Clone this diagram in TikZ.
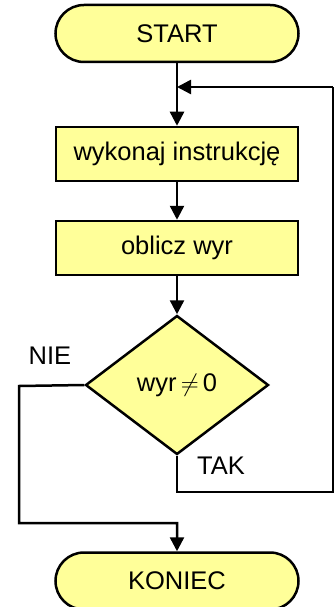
\documentclass[tikz,border=0pt]{standalone}
\usepackage{fontspec}
\setmainfont{Liberation Sans}
\usetikzlibrary{arrows.meta,shapes.geometric,shapes.misc}
\definecolor{fillyel}{RGB}{255,255,153}
\begin{document}
\begin{tikzpicture}[x=1pt,y=-1pt,
  txt/.style={font=\fontsize{25.5}{30}\selectfont},
  term/.style={draw=black,line width=2.5pt,fill=fillyel,rounded rectangle,minimum width=243pt,minimum height=57pt,inner sep=0pt,txt},
  proc/.style={draw=black,line width=2.5pt,fill=fillyel,rectangle,minimum width=242pt,minimum height=54pt,inner sep=0pt,txt},
  deci/.style={draw=black,line width=2.5pt,fill=fillyel,diamond,aspect=1.32,minimum width=183pt,minimum height=139pt,inner sep=0pt,txt},
  conn/.style={line width=2.5pt,-{Triangle[length=14pt,width=14pt]}},
  line/.style={line width=2.5pt}]
\useasboundingbox (0,0) rectangle (334,607);
\node[term] (start) at (177,33.5) {START};
\node[proc] (p1) at (177,154) {wykonaj instrukcję};
\node[proc] (p2) at (177,248) {oblicz wyr};
\node[deci] (d) at (177,385) {wyr$\,\neq\,$0};
\node[term] (end) at (177,581) {KONIEC};
\node[txt] (nie) at (50,356) {NIE};
\node[txt] (tak) at (221,466) {TAK};
\coordinate (j) at (177,87);
\coordinate (r1) at (333,87);
\coordinate (r2) at (333,492);
\coordinate (t1) at (177,492);
\coordinate (l1) at (19,386);
\coordinate (l2) at (19,523);
\coordinate (l3) at (177,523);
\draw[line] (start.south) -- (j);
\draw[conn] (j) -- (p1.north);
\draw[conn] (r1) -- (j);
\draw[conn] (p1.south) -- (p2.north);
\draw[conn] (p2.south) -- (d.north);
\draw[line] (d.south) -- (t1) -- (r2) -- (r1);
\draw[conn] (d.west) -- (l1) -- (l2) -- (l3) -- (end.north);
\end{tikzpicture}
\end{document}
